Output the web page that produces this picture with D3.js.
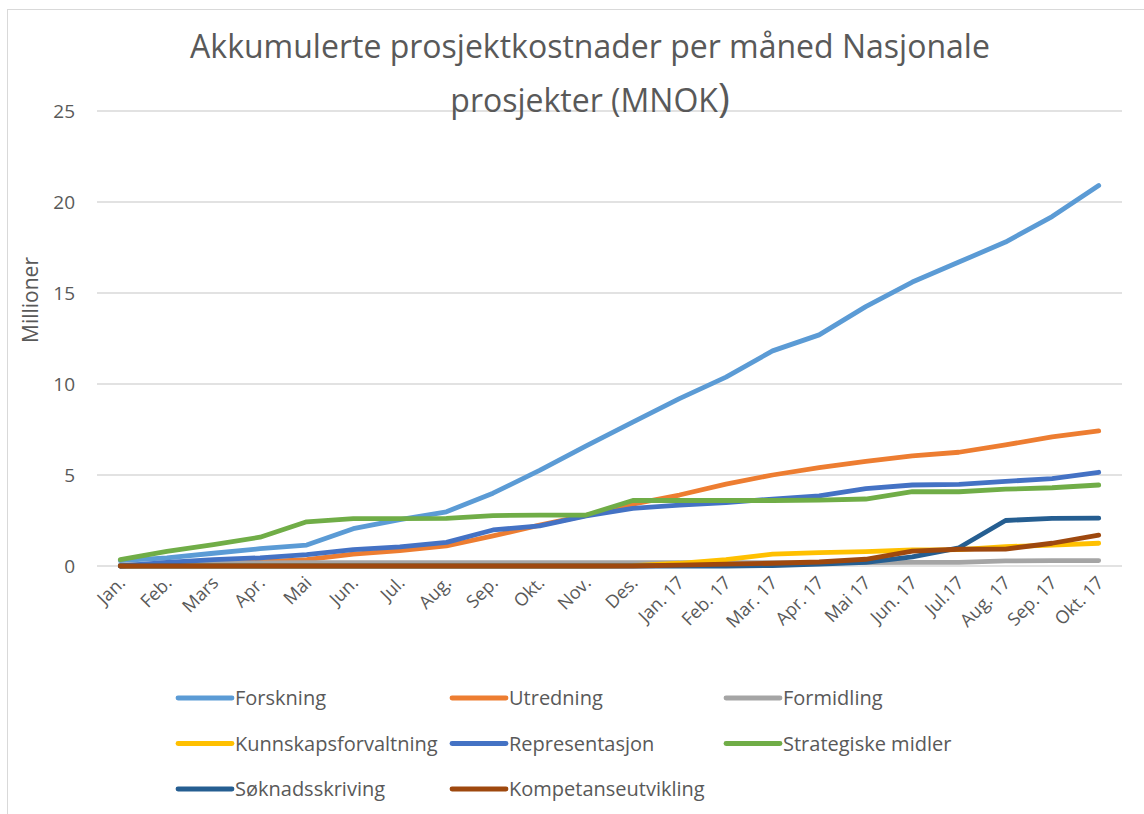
<!DOCTYPE html>
<head>
    <meta charset="utf-8">
    <script src="https://d3js.org/d3.v7.min.js"></script>
    <style>
        body { margin: 0; background: #fff; }
    </style>
</head>

<body>
<svg width="1144" height="814" font-family="'Open Sans', sans-serif"></svg>
<script>

// data (MNOK, accumulated)
let months = ["Jan.", "Feb.", "Mars", "Apr.", "Mai", "Jun.", "Jul.", "Aug.", "Sep.", "Okt.", "Nov.", "Des.",
    "Jan. 17", "Feb. 17", "Mar. 17", "Apr. 17", "Mai 17", "Jun. 17", "Jul.17", "Aug. 17", "Sep. 17", "Okt. 17"];

let forskning = [0.3, 0.45, 0.7, 0.95, 1.15, 2.05, 2.55, 2.98, 4.0, 5.25, 6.6, 7.9, 9.2, 10.38, 11.82, 12.7, 14.25, 15.6, 16.7, 17.8, 19.2, 20.9];
let utredning = [0, 0.05, 0.12, 0.22, 0.35, 0.65, 0.85, 1.1, 1.65, 2.25, 2.78, 3.4, 3.9, 4.5, 5.0, 5.4, 5.75, 6.05, 6.25, 6.65, 7.1, 7.42];
let formidling = [0.05, 0.1, 0.15, 0.17, 0.18, 0.18, 0.18, 0.18, 0.18, 0.18, 0.18, 0.18, 0.18, 0.18, 0.18, 0.18, 0.18, 0.2, 0.2, 0.28, 0.3, 0.3];
let kunnskapsforvaltning = [0, 0, 0, 0, 0, 0, 0, 0, 0, 0, 0, 0.02, 0.15, 0.35, 0.65, 0.73, 0.79, 0.88, 0.9, 1.06, 1.15, 1.25];
let representasjon = [0, 0.2, 0.35, 0.45, 0.62, 0.9, 1.05, 1.3, 1.98, 2.2, 2.75, 3.17, 3.35, 3.48, 3.68, 3.85, 4.25, 4.45, 4.48, 4.65, 4.8, 5.15];
let strategiske = [0.35, 0.8, 1.18, 1.58, 2.43, 2.6, 2.6, 2.62, 2.77, 2.8, 2.8, 3.6, 3.6, 3.6, 3.6, 3.62, 3.68, 4.08, 4.08, 4.22, 4.3, 4.45];
let soknad = [0, 0, 0, 0, 0, 0, 0, 0, 0, 0, 0, 0, 0, 0, 0.02, 0.1, 0.2, 0.5, 1.0, 2.5, 2.62, 2.63];
let kompetanse = [0, 0, 0, 0, 0, 0, 0, 0, 0, 0, 0, 0, 0.05, 0.1, 0.15, 0.22, 0.37, 0.82, 0.92, 0.93, 1.25, 1.7];

let yTicks = [0, 5, 10, 15, 20, 25];

let seriesNames = ["Forskning", "Utredning", "Formidling", "Kunnskapsforvaltning", "Representasjon",
    "Strategiske midler", "Søknadsskriving", "Kompetanseutvikling"];
let seriesValues = [forskning, utredning, formidling, kunnskapsforvaltning, representasjon, strategiske, soknad, kompetanse];
let colors = ["#5B9BD5", "#ED7D31", "#A5A5A5", "#FFC000", "#4472C4", "#70AD47", "#255E91", "#9E480E"];

let svg = d3.select("svg");
let textColor = "#595959";

// chart frame
svg.append("rect")
    .attr("x", 7.5).attr("y", 9.5)
    .attr("width", 1160).attr("height", 820)
    .attr("fill", "#fff")
    .attr("stroke", "#d9d9d9");

let x = d3.scaleBand()
    .domain(months)
    .range([97, 1122]);

let y = d3.scaleLinear()
    .domain([0, 25])
    .range([566, 111]);

let cx = function(m) { return x(m) + x.bandwidth() / 2; };

// gridlines
svg.append("g")
    .selectAll("line")
    .data(yTicks)
    .enter().append("line")
      .attr("x1", 97).attr("x2", 1122)
      .attr("y1", y).attr("y2", y)
      .attr("stroke", "#d9d9d9")
      .attr("stroke-width", 1.3);

// y tick labels
svg.append("g")
    .selectAll("text")
    .data(yTicks)
    .enter().append("text")
      .attr("x", 75)
      .attr("y", y)
      .attr("dy", "0.35em")
      .attr("text-anchor", "end")
      .attr("font-size", 19)
      .attr("fill", textColor)
      .text(function(d) { return d; });

svg.append("text")
    .attr("transform", "translate(38,300)rotate(-90)")
    .attr("text-anchor", "middle")
    .attr("font-size", 21)
    .attr("fill", textColor)
    .text("Millioner");

// x tick labels
svg.append("g")
    .selectAll("text")
    .data(months)
    .enter().append("text")
      .attr("transform", function(d) { return "translate(" + (cx(d) + 6) + ",584)rotate(-45)"; })
      .attr("text-anchor", "end")
      .attr("font-size", 18)
      .attr("fill", textColor)
      .text(function(d) { return d; });

// lines
let line = d3.line()
    .x(function(d, i) { return cx(months[i]); })
    .y(function(d) { return y(d); });

svg.append("g")
    .selectAll("path")
    .data(seriesValues)
    .enter().append("path")
      .attr("d", line)
      .attr("fill", "none")
      .attr("stroke", function(d, i) { return colors[i]; })
      .attr("stroke-width", 4.8)
      .attr("stroke-linejoin", "round")
      .attr("stroke-linecap", "round");

// title
let title = svg.append("text")
    .attr("text-anchor", "middle")
    .attr("font-size", 32)
    .attr("fill", textColor);
title.append("tspan")
    .attr("x", 590).attr("y", 58)
    .text("Akkumulerte prosjektkostnader per måned Nasjonale");
title.append("tspan")
    .attr("x", 590).attr("y", 112)
    .text("prosjekter (MNOK")
  .append("tspan")
    .attr("font-size", 40)
    .text(")");

// legend
let legend = svg.append("g")
    .selectAll("g")
    .data(seriesNames)
    .enter().append("g")
      .attr("transform", function(d, i) { return "translate(" + (178 + (i % 3) * 274) + "," + (698 + Math.floor(i / 3) * 45.5) + ")"; });

legend.append("line")
    .attr("x1", 0).attr("x2", 54)
    .attr("stroke", function(d, i) { return colors[i]; })
    .attr("stroke-width", 4.8)
    .attr("stroke-linecap", "round");

legend.append("text")
    .attr("x", 57)
    .attr("dy", "0.35em")
    .attr("font-size", 20)
    .attr("fill", textColor)
    .text(function(d) { return d; });

</script>
</body>
